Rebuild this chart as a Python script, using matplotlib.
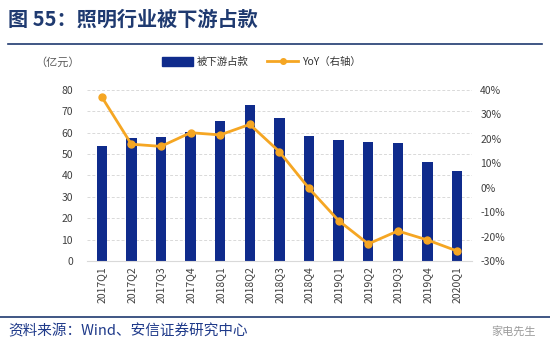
import numpy as np
import matplotlib
matplotlib.use('Agg')
import matplotlib.pyplot as plt
from matplotlib.lines import Line2D
from matplotlib.patches import Patch

plt.rcParams['font.family'] = ['Noto Sans CJK SC', 'DejaVu Sans']

quarters = ['2017Q1', '2017Q2', '2017Q3', '2017Q4', '2018Q1', '2018Q2', '2018Q3',
            '2018Q4', '2019Q1', '2019Q2', '2019Q3', '2019Q4', '2020Q1']
occupied = [53.7, 57.6, 58.1, 60.3, 65.3, 72.8, 66.7, 58.4, 56.5, 55.8, 55.0, 46.1, 42.0]
yoy = [37.2, 17.8, 16.9, 22.5, 21.6, 25.9, 14.7, -0.3, -13.5, -23.0, -17.7, -21.4, -25.9]

bar_color = '#0F2B8C'
line_color = '#F5A623'
title_color = '#1F3A70'
tick_color = '#404040'

fig = plt.figure(figsize=(5.5, 3.52), dpi=100)
ax = fig.add_axes([0.158, 0.2585, 0.70, 0.486])
x = np.arange(len(quarters))

ax.bar(x, occupied, width=0.35, color=bar_color, zorder=2)
ax.set_xlim(-0.5, len(quarters) - 0.5)
ax.set_ylim(0, 80)
ax.set_yticks(range(0, 81, 10))
ax.yaxis.grid(True, linestyle=(0, (3, 2)), color='#D9D9D9', linewidth=0.7, zorder=0)
ax.set_xticks(x)
ax.set_xticklabels(quarters, rotation=90, fontsize=7.5, color=tick_color)
ax.tick_params(axis='y', labelsize=7.5, colors=tick_color, length=0, pad=10)
ax.tick_params(axis='x', length=0, pad=4)
for s in ['top', 'right', 'left']:
    ax.spines[s].set_visible(False)
ax.spines['bottom'].set_color('#D9D9D9')

ax2 = ax.twinx()
ax2.plot(x, yoy, color=line_color, linewidth=2, marker='o', markersize=5, zorder=3)
ax2.set_ylim(-30, 40)
ax2.set_yticks(range(-30, 41, 10))
ax2.set_yticklabels([f'{v}%' for v in range(-30, 41, 10)])
ax2.tick_params(axis='y', labelsize=7.5, colors=tick_color, length=0, pad=6)
for s in ['top', 'right', 'left', 'bottom']:
    ax2.spines[s].set_visible(False)

# legend
handles = [Patch(color=bar_color),
           Line2D([0], [0], color=line_color, lw=2, marker='o', markersize=4)]
fig.legend(handles, ['被下游占款', 'YoY（右轴）'], loc='center', bbox_to_anchor=(0.475, 0.823),
           ncol=2, frameon=False, fontsize=7.5, handlelength=3.0, handleheight=0.9,
           columnspacing=1.8, handletextpad=0.3, labelcolor='#333333')

fig.text(0.065, 0.823, '（亿元）', fontsize=8, color='#595959', va='center')

# title and rules
fig.text(0.015, 0.945, '图 55：照明行业被下游占款', fontsize=14.5, fontweight='bold',
         color=title_color, va='center')
fig.add_artist(Line2D([0.015, 0.985], [0.875, 0.875], color=title_color, lw=1.2))
fig.add_artist(Line2D([0.0, 1.0], [0.10, 0.10], color=title_color, lw=1.2))

fig.text(0.015, 0.06, '资料来源：Wind、安信证券研究中心', fontsize=10.5, style='italic',
         color='#1F3A8A', va='center')
fig.text(0.975, 0.06, '家电先生', fontsize=8, color='#9A9A9A', va='center', ha='right')

fig.savefig('out.png', dpi=100)
